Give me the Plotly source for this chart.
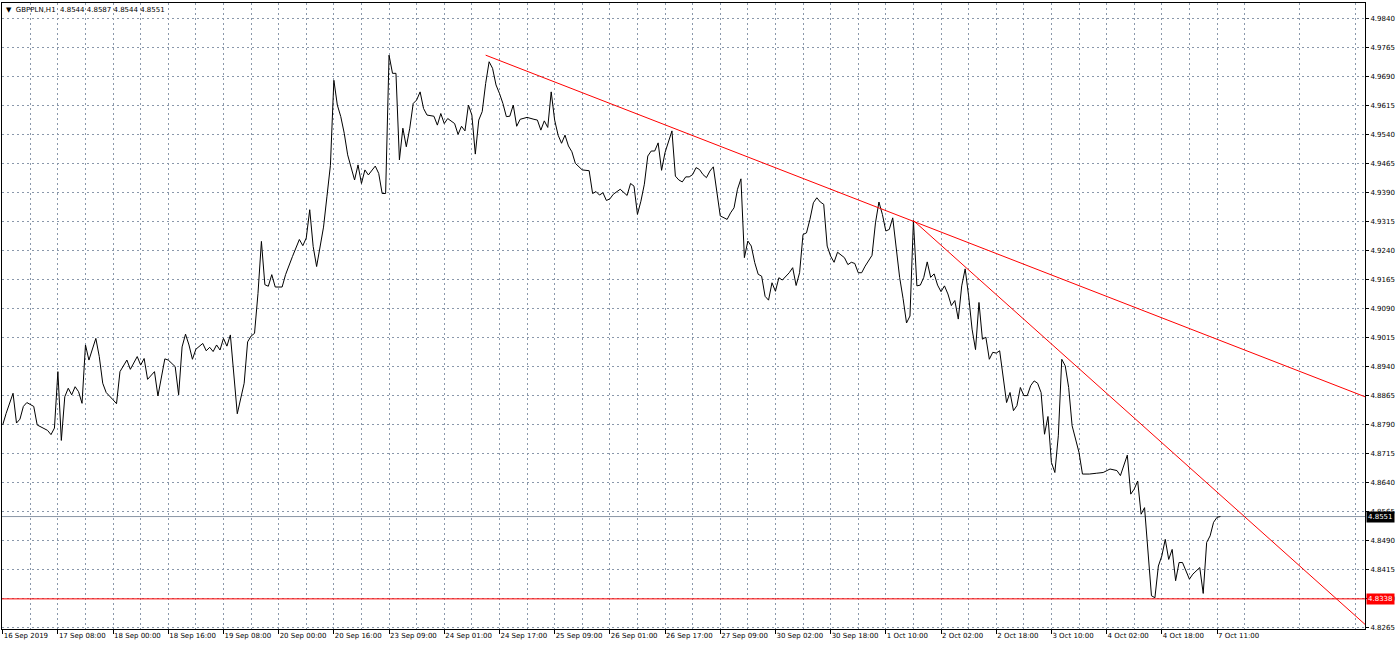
import plotly.graph_objects as go

# ---- data (hourly GBPPLN closes, bar index from 16 Sep 2019 16:00) ----
bar_index = [0, 1, 3, 4, 5, 6, 7, 9, 10, 11, 13, 14, 15, 16, 17, 18, 19, 20, 21, 22, 23, 24, 25, 27, 28, 29, 30,
             32, 33, 34, 36, 37, 39, 40, 41, 42, 44, 45, 47, 48, 50, 51, 52, 53, 54, 55, 56, 58, 59, 60, 61, 62,
             63, 64, 65, 66, 68, 70, 71, 72, 73, 74, 75, 76, 77, 78, 79, 81, 82, 84, 86, 87, 88, 89, 90, 91, 92,
             93, 94, 95, 96, 97, 98, 99, 100, 101, 102, 103, 104, 105, 106, 108, 109, 110, 111, 112, 113, 114,
             115, 116, 117, 118, 119, 120, 121, 122, 123, 125, 126, 127, 128, 129, 131, 132, 133, 134, 135, 136,
             137, 138, 139, 140, 141, 142, 143, 144, 145, 146, 147, 148, 149, 150, 152, 154, 155, 156, 157, 158,
             159, 160, 161, 162, 163, 164, 165, 166, 168, 170, 171, 172, 173, 174, 175, 176, 177, 179, 180, 181,
             182, 183, 184, 185, 186, 187, 188, 189, 190, 191, 192, 194, 195, 196, 197, 198, 199, 200, 201, 202,
             203, 204, 205, 206, 208, 209, 210, 211, 212, 213, 214, 215, 216, 217, 218, 219, 220, 221, 222, 223,
             224, 225, 226, 228, 229, 230, 231, 232, 233, 234, 235, 236, 237, 238, 239, 240, 241, 242, 244, 245,
             246, 247, 248, 249, 250, 252, 253, 254, 255, 256, 257, 258, 259, 260, 261, 262, 263, 264, 265, 266,
             267, 268, 269, 270, 271, 272, 273, 274, 275, 276, 277, 278, 279, 280, 281, 282, 283, 284, 285, 286,
             287, 288, 289, 290, 291, 292, 293, 294, 295, 296, 297, 298, 299, 300, 301, 302, 303, 304, 305, 306,
             307, 308, 309, 310, 312, 313, 315, 317, 319, 321, 323, 324, 325, 326, 327, 328, 329, 330, 331, 332,
             333, 334, 335, 336, 337, 338, 339, 340, 341, 342, 343, 344, 345, 347, 348, 349, 350, 351, 352, 353]

close = [4.8788, 4.8818, 4.8870, 4.8793, 4.8803, 4.8836, 4.8846, 4.8836, 4.8788, 4.8784, 4.8774, 4.8763, 4.8780,
         4.8926, 4.8748, 4.8861, 4.8883, 4.8866, 4.8887, 4.8874, 4.8844, 4.8995, 4.8956, 4.9012, 4.8965, 4.8896,
         4.8872, 4.8853, 4.8843, 4.8926, 4.8956, 4.8932, 4.8965, 4.8943, 4.8960, 4.8906, 4.8926, 4.8863, 4.8959,
         4.8956, 4.8939, 4.8866, 4.8990, 4.9023, 4.8995, 4.8958, 4.8984, 4.8999, 4.8980, 4.8989, 4.8978, 4.8995,
         4.8982, 4.9012, 4.8992, 4.9021, 4.8817, 4.8896, 4.9003, 4.9018, 4.9025, 4.9128, 4.9263, 4.9151, 4.9147,
         4.9177, 4.9145, 4.9145, 4.9177, 4.9224, 4.9268, 4.9252, 4.9272, 4.9345, 4.9250, 4.9198, 4.9250, 4.9300,
         4.9380, 4.9460, 4.9680, 4.9616, 4.9586, 4.9543, 4.9487, 4.9452, 4.9422, 4.9461, 4.9413, 4.9448, 4.9435,
         4.9458, 4.9439, 4.9387, 4.9387, 4.9745, 4.9698, 4.9698, 4.9474, 4.9556, 4.9508, 4.9556, 4.9620, 4.9629,
         4.9650, 4.9607, 4.9590, 4.9587, 4.9564, 4.9594, 4.9568, 4.9581, 4.9568, 4.9540, 4.9561, 4.9549, 4.9616,
         4.9590, 4.9489, 4.9577, 4.9599, 4.9672, 4.9728, 4.9711, 4.9668, 4.9646, 4.9620, 4.9586, 4.9587, 4.9616,
         4.9561, 4.9579, 4.9584, 4.9579, 4.9577, 4.9551, 4.9575, 4.9558, 4.9650, 4.9577, 4.9538, 4.9517, 4.9538,
         4.9510, 4.9495, 4.9465, 4.9448, 4.9446, 4.9387, 4.9392, 4.9383, 4.9389, 4.9369, 4.9373, 4.9385, 4.9398,
         4.9391, 4.9382, 4.9413, 4.9406, 4.9333, 4.9367, 4.9411, 4.9484, 4.9497, 4.9497, 4.9518, 4.9447, 4.9493,
         4.9549, 4.9432, 4.9422, 4.9417, 4.9430, 4.9430, 4.9436, 4.9454, 4.9449, 4.9436, 4.9428, 4.9445, 4.9456,
         4.9329, 4.9324, 4.9320, 4.9337, 4.9350, 4.9398, 4.9425, 4.9221, 4.9264, 4.9251, 4.9208, 4.9178, 4.9173,
         4.9121, 4.9111, 4.9156, 4.9134, 4.9169, 4.9163, 4.9182, 4.9195, 4.9149, 4.9182, 4.9281, 4.9285, 4.9320,
         4.9363, 4.9376, 4.9365, 4.9359, 4.9251, 4.9225, 4.9209, 4.9235, 4.9221, 4.9203, 4.9209, 4.9206, 4.9182,
         4.9182, 4.9199, 4.9227, 4.9311, 4.9365, 4.9333, 4.9290, 4.9294, 4.9324, 4.9250, 4.9170, 4.9115, 4.9052,
         4.9070, 4.9317, 4.9148, 4.9150, 4.9170, 4.9210, 4.9170, 4.9179, 4.9150, 4.9133, 4.9148, 4.9127, 4.9097,
         4.9110, 4.9062, 4.9148, 4.9192, 4.9122, 4.9036, 4.8983, 4.9105, 4.9010, 4.9015, 4.8958, 4.8976, 4.8974,
         4.8980, 4.8915, 4.8846, 4.8872, 4.8825, 4.8838, 4.8885, 4.8864, 4.8864, 4.8890, 4.8902, 4.8896, 4.8872,
         4.8764, 4.8810, 4.8691, 4.8665, 4.8760, 4.8958, 4.8941, 4.8885, 4.8786, 4.8717, 4.8661, 4.8661, 4.8663,
         4.8665, 4.8674, 4.8670, 4.8657, 4.8682, 4.8710, 4.8609, 4.8622, 4.8643, 4.8557, 4.8574, 4.8458, 4.8346,
         4.8341, 4.8423, 4.8449, 4.8492, 4.8440, 4.8466, 4.8385, 4.8432, 4.8432, 4.8411, 4.8389, 4.8402, 4.8419,
         4.8352, 4.8484, 4.8501, 4.8536, 4.8549, 4.8551]

x_tick_index = [0, 16, 32, 48, 64, 80, 96, 112, 128, 144, 160, 176, 192, 208, 224, 240, 256, 272, 288, 304,
                320, 336, 352]
x_tick_labels = ["16 Sep 2019", "17 Sep 08:00", "18 Sep 00:00", "18 Sep 16:00", "19 Sep 08:00",
                 "20 Sep 00:00", "20 Sep 16:00", "23 Sep 09:00", "24 Sep 01:00", "24 Sep 17:00",
                 "25 Sep 09:00", "26 Sep 01:00", "26 Sep 17:00", "27 Sep 09:00", "30 Sep 02:00",
                 "30 Sep 18:00", "1 Oct 10:00", "2 Oct 02:00", "2 Oct 18:00", "3 Oct 10:00",
                 "4 Oct 02:00", "4 Oct 18:00", "7 Oct 11:00"]

y_tick_values = [4.9840, 4.9765, 4.9690, 4.9615, 4.9540, 4.9465, 4.9390, 4.9315, 4.9240, 4.9165, 4.9090,
                 4.9015, 4.8940, 4.8865, 4.8790, 4.8715, 4.8640, 4.8565, 4.8490, 4.8415, 4.8340, 4.8265]
y_tick_labels = ["4.9840", "4.9765", "4.9690", "4.9615", "4.9540", "4.9465", "4.9390", "4.9315", "4.9240",
                 "4.9165", "4.9090", "4.9015", "4.8940", "4.8865", "4.8790", "4.8715", "4.8640", "4.8565",
                 "4.8490", "4.8415", "4.8340", "4.8265"]

trend1_index = [140, 394.9]
trend1_price = [4.9745, 4.8861]
trend2_index = [264, 394.9]
trend2_price = [4.9317, 4.8272]

bid_price = 4.8551
support_price = 4.8338
symbol = "GBPPLN,H1"
ohlc = ["4.8544", "4.8587", "4.8544", "4.8551"]

# ---- figure ----
FONT = "DejaVu Sans"
GRID = "#8a98ab"
GDASH = "2px,3px"
NB = "\u00a0"

fig = go.Figure()
fig.add_trace(go.Scatter(x=bar_index, y=close, mode="lines",
                         line=dict(color="black", width=1), hoverinfo="skip"))
fig.add_trace(go.Scatter(x=trend1_index, y=trend1_price, mode="lines",
                         line=dict(color="#ff0000", width=1), hoverinfo="skip"))
fig.add_trace(go.Scatter(x=trend2_index, y=trend2_price, mode="lines",
                         line=dict(color="#ff0000", width=1), hoverinfo="skip"))

fig.add_shape(type="line", xref="paper", x0=0, x1=1, yref="y", y0=bid_price, y1=bid_price,
              line=dict(color="#8a97a6", width=1), layer="below")
fig.add_shape(type="line", xref="paper", x0=0, x1=1, yref="y", y0=support_price, y1=support_price,
              line=dict(color="#ff0000", width=1))

fig.add_annotation(xref="paper", x=1, xanchor="left", yref="y", y=bid_price, yanchor="middle",
                   text="%.4f" % bid_price, showarrow=False, bgcolor="black",
                   font=dict(family=FONT, size=7, color="white"), borderpad=1, xshift=1)
fig.add_annotation(xref="paper", x=1, xanchor="left", yref="y", y=support_price, yanchor="middle",
                   text="%.4f" % support_price, showarrow=False, bgcolor="#ff0000",
                   font=dict(family=FONT, size=7, color="white"), borderpad=1, xshift=1)
fig.add_annotation(xref="paper", x=0, xanchor="left", yref="paper", y=1, yanchor="top",
                   text="▼" + NB * 2 + symbol + NB * 2 + " ".join(ohlc), showarrow=False,
                   font=dict(family=FONT, size=7, color="black"), xshift=2, yshift=-1)

fig.update_layout(
    width=1400, height=647,
    margin=dict(l=2, r=35, t=3, b=18, pad=0, autoexpand=False),
    paper_bgcolor="white", plot_bgcolor="white",
    showlegend=False,
    font=dict(family=FONT, size=7, color="black"),
    xaxis=dict(
        range=[-0.2, 394.9], automargin=False,
        tickmode="array", tickvals=x_tick_index, ticktext=x_tick_labels,
        tickangle=0,
        ticks="outside", ticklen=4, tickcolor="black", tickwidth=1,
        ticklabelposition="outside right",
        tickfont=dict(family=FONT, size=7, color="black"),
        showline=True, linecolor="black", linewidth=1, mirror=True,
        showgrid=True, gridcolor=GRID, griddash=GDASH, gridwidth=1,
        zeroline=False,
        minor=dict(tickmode="array", tickvals=list(range(8, 395, 16)), ticks="",
                   showgrid=True, gridcolor=GRID, griddash=GDASH, gridwidth=1),
    ),
    yaxis=dict(
        range=[4.8260, 4.9880], side="right", automargin=False,
        tickmode="array", tickvals=y_tick_values, ticktext=y_tick_labels,
        ticks="outside", ticklen=3, tickcolor="black", tickwidth=1,
        tickfont=dict(family=FONT, size=7, color="black"),
        showline=True, linecolor="black", linewidth=1, mirror=True,
        showgrid=True, gridcolor=GRID, griddash=GDASH, gridwidth=1,
        zeroline=False,
    ),
)

fig.write_html("out.html", config={"displayModeBar": False},
               post_script="document.body.style.margin='0';document.body.style.overflow='hidden';")
